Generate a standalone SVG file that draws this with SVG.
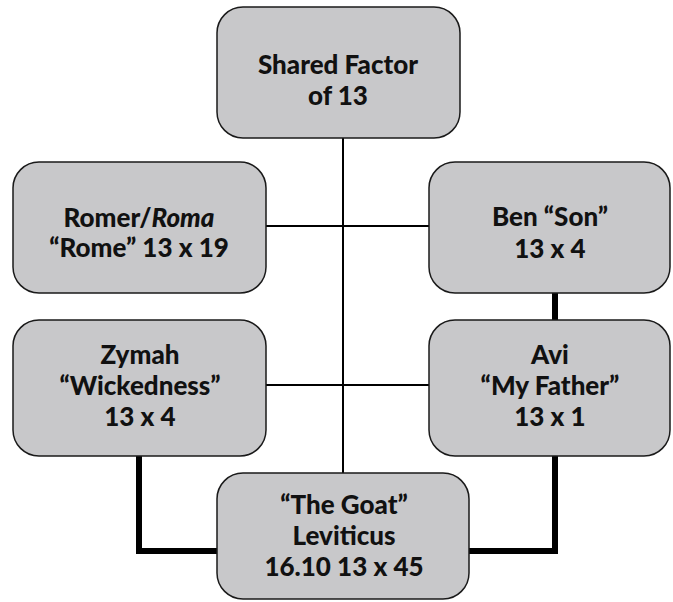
<svg xmlns="http://www.w3.org/2000/svg" width="673" height="602" viewBox="0 0 673 602">
<style>
.box{fill:#c8c8ca;stroke:#1a1a1a;stroke-width:1.5}
.t{font-family:Lato,"Open Sans","Liberation Sans",sans-serif;font-weight:900;font-size:26px;fill:#111;text-anchor:middle}
.thin{stroke:#000;stroke-width:2;fill:none}
.thick{stroke:#000;stroke-width:6;fill:none}
</style>
<rect width="673" height="602" fill="#fff"/>
<g id="connectors">
<line class="thin" x1="343" y1="138" x2="343" y2="473"/>
<line class="thin" x1="266" y1="226" x2="429" y2="226"/>
<line class="thin" x1="266" y1="385" x2="429" y2="385"/>
<line class="thick" x1="555" y1="293" x2="555" y2="320"/>
<polyline class="thick" points="139,456 139,551 217,551"/>
<polyline class="thick" points="555,456 555,551 469,551"/>
</g>
<g id="shared">
<rect class="box" x="217" y="7" width="243" height="131" rx="26"/>
<text class="t" x="338" y="74">Shared Factor</text>
<text class="t" x="338" y="105">of 13</text>
</g>
<g id="romer">
<rect class="box" x="13" y="162" width="253" height="131" rx="26"/>
<text class="t" x="139" y="227">Romer/<tspan font-style="italic">Roma</tspan></text>
<text class="t" x="139" y="257">“Rome” 13 x 19</text>
</g>
<g id="ben">
<rect class="box" x="429" y="162" width="241" height="131" rx="26"/>
<text class="t" x="550" y="226">Ben “Son”</text>
<text class="t" x="550" y="258">13 x 4</text>
</g>
<g id="zymah">
<rect class="box" x="13" y="320" width="253" height="136" rx="26"/>
<text class="t" x="140" y="364">Zymah</text>
<text class="t" x="140" y="395">“Wickedness”</text>
<text class="t" x="140" y="426">13 x 4</text>
</g>
<g id="avi">
<rect class="box" x="429" y="320" width="241" height="136" rx="26"/>
<text class="t" x="550" y="364">Avi</text>
<text class="t" x="550" y="395">“My Father”</text>
<text class="t" x="550" y="426">13 x 1</text>
</g>
<g id="goat">
<rect class="box" x="217" y="473" width="252" height="126" rx="26"/>
<text class="t" x="344" y="514">“The Goat”</text>
<text class="t" x="344" y="545">Leviticus</text>
<text class="t" x="344" y="576">16.10 13 x 45</text>
</g>
</svg>
